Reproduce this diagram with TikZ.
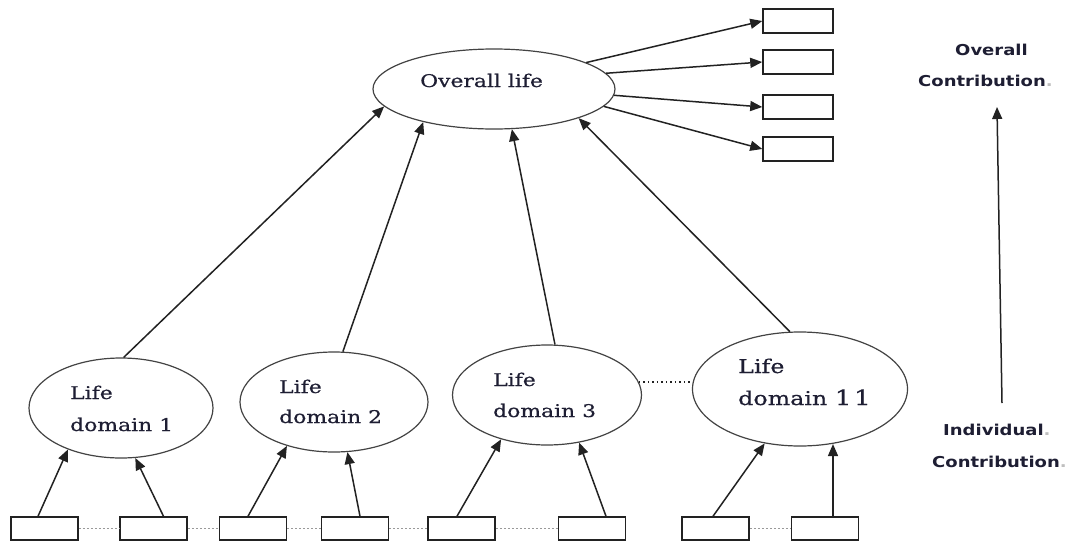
\documentclass[tikz,border=0pt]{standalone}
\usepackage{fontspec}
\newfontfamily\serifw[FakeStretch=1.25,FakeBold=0.6]{DejaVu Serif}
\newfontfamily\sansw[FakeStretch=1.2]{DejaVu Sans}
\usetikzlibrary{shapes.geometric,arrows.meta,calc}
\definecolor{ink}{HTML}{222222}
\definecolor{txt}{HTML}{1E1E33}
\begin{document}
\begin{tikzpicture}[x=1pt,y=-1pt,
  ell/.style={ellipse,draw=ink!85,line width=1.2pt,inner sep=0},
  obs/.style={rectangle,draw=ink,line width=1.5pt,minimum width=67pt,minimum height=23pt,inner sep=0},
  rbox/.style={obs,minimum width=70pt,minimum height=24pt},
  arr/.style={draw=ink,line width=1.5pt,-{Triangle[length=12pt,width=10pt]}},
  dots/.style={draw=gray!80,line width=0.8pt,dash pattern=on 2pt off 2pt},
  blackdots/.style={draw=ink,line width=1.4pt,dash pattern=on 1.5pt off 3pt},
  lbl/.style={anchor=base west,inner sep=0,text=txt,font=\serifw\fontsize{17.5}{20}\selectfont},
  lblbig/.style={lbl,font=\serifw\fontsize{19}{22}\selectfont},
  side/.style={anchor=base west,inner sep=0,text=txt,font=\sansw\bfseries\fontsize{15}{18}\selectfont}]

\useasboundingbox (0,0) rectangle (1066,544);
\fill[white] (0,0) rectangle (1066,544);

% overall ellipse
\node[ell,minimum width=242pt,minimum height=80pt] (ov) at (494,89) {};
\node[lbl] (ovt) at (420,87) {Overall life};

% right boxes
\node[rbox] (r1) at (798,21) {};
\node[rbox] (r2) at (798,62) {};
\node[rbox] (r3) at (798,107) {};
\node[rbox] (r4) at (798,149) {};

% domain ellipses
\node[ell,minimum width=184pt,minimum height=100pt] (ld1) at (121,408) {};
\node[ell,minimum width=188pt,minimum height=100pt] (ld2) at (334,402) {};
\node[ell,minimum width=189pt,minimum height=100pt] (ld3) at (547,395) {};
\node[ell,minimum width=215pt,minimum height=114pt] (ld11) at (800,389) {};

\node[lbl] (t1a) at (70,399) {Life};
\node[lbl] (t1b) at (70,431) {domain 1};
\node[lbl] (t2a) at (279,393) {Life};
\node[lbl] (t2b) at (279,423) {domain 2};
\node[lbl] (t3a) at (493,386) {Life};
\node[lbl] (t3b) at (493,417) {domain 3};
\node[lblbig] (t11a) at (738,373) {Life};
\node[lblbig] (t11b) at (738,405) {domain {\fontsize{21}{22}\selectfont\addfontfeature{LetterSpace=12}11}};

% bottom boxes
\node[obs] (b1) at (44.5,528.5) {};
\node[obs] (b2) at (153.5,528.5) {};
\node[obs] (b3) at (253,528.5) {};
\node[obs] (b4) at (355,528.5) {};
\node[obs] (b5) at (461.5,528.5) {};
\node[obs] (b6) at (592,528.5) {};
\node[obs] (b7) at (715.5,528.5) {};
\node[obs] (b8) at (825,528.5) {};

% dotted links between boxes
\draw[dots] (b1.east) -- (b2.west);
\draw[dots] (b2.east) -- (b3.west);
\draw[dots] (b3.east) -- (b4.west);
\draw[dots] (b4.east) -- (b5.west);
\draw[dots] (b5.east) -- (b6.west);
\draw[dots] (b7.east) -- (b8.west);

% dotted link between domains
\draw[blackdots] (ld3.8) -- (ld11.west |- ld3.8);

% indicators to domains
\coordinate (b8top) at ($(b8.north)+(8,0)$);
\draw[arr] ($(b1.north)+(-6.5,0)$) -- (ld1.218);
\draw[arr] ($(b2.north)+(10,0)$) -- (ld1.286);
\draw[arr] ($(b3.north)+(-5,0)$) -- (ld2.223);
\draw[arr] ($(b4.north)+(5,0)$) -- (ld2.285);
\draw[arr] ($(b5.north)+(-4.5,0)$) -- (ld3.224);
\draw[arr] ($(b6.north)+(14,0)$) -- (ld3.304);
\draw[arr] ($(b7.north)+(-2.5,0)$) -- (ld11.237);
\draw[arr] (b8top) -- (b8top |- ld11.300);

% domains to overall
\draw[arr] (ld1.87) -- (ov.189);
\draw[arr] (ld2.80) -- (ov.205);
\draw[arr] (ld3.81) -- (ov.294);
\draw[arr] (ld11.100) -- (ov.341);

% overall to right boxes
\draw[arr] (ov.16.5) -- (r1.west);
\draw[arr] (ov.8) -- (r2.west);
\draw[arr] (ov.357) -- (r3.west);
\draw[arr] (ov.351) -- (r4.west);

% side labels and arrow
\node[side] (s1) at (955,55) {Overall};
\node[side] (s2) at (918,86) {Contribution\textcolor{gray!50}{.}};
\node[side] (s3) at (943,435) {Individual\textcolor{gray!50}{.}};
\node[side] (s4) at (932,467) {Contribution\textcolor{gray!50}{.}};
\coordinate (ic) at (1002,403);
\coordinate (oc) at (997,107);
\draw[arr] (ic) -- (oc);
\end{tikzpicture}
\end{document}
